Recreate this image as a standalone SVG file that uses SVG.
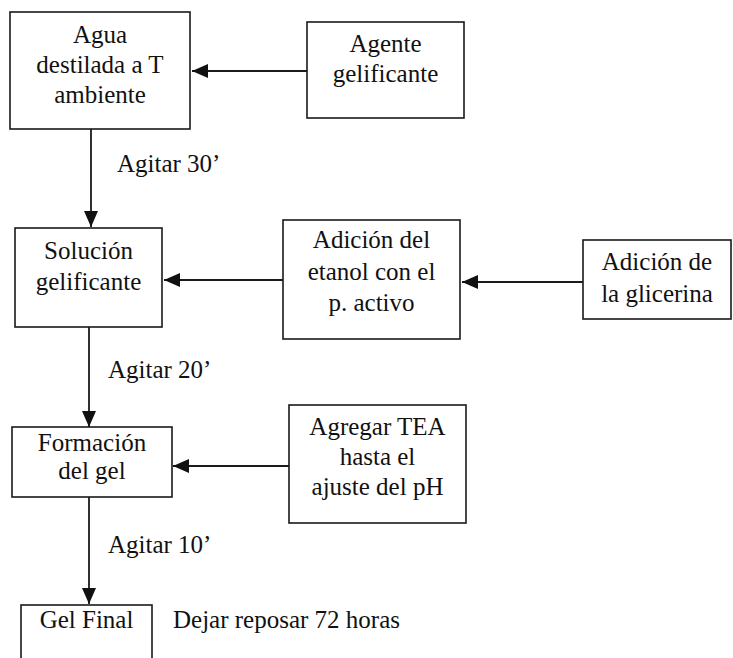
<svg xmlns="http://www.w3.org/2000/svg" width="733" height="658" viewBox="0 0 733 658">
  <defs>
    <marker id="head" viewBox="0 0 16 14" refX="16" refY="7" markerWidth="16" markerHeight="14" markerUnits="userSpaceOnUse" orient="auto">
      <path d="M0,0 L16,7 L0,14 Z" fill="#111111"/>
    </marker>
  </defs>
  <rect width="733" height="658" fill="#ffffff"/>

  <!-- connectors -->
  <g id="connectors" stroke="#1a1a1a" stroke-width="1.8" fill="none" marker-end="url(#head)">
    <line x1="307" y1="71" x2="192" y2="71"/>
    <line x1="91" y1="129" x2="91" y2="227"/>
    <line x1="283" y1="280" x2="164" y2="280"/>
    <line x1="583" y1="282" x2="462" y2="282"/>
    <line x1="89" y1="327" x2="89" y2="427"/>
    <line x1="289" y1="466" x2="173" y2="466"/>
    <line x1="89" y1="497" x2="89" y2="604"/>
  </g>
  <g id="connector-labels" font-family="Liberation Serif" font-size="25" fill="#111111">
    <text x="117" y="172">Agitar 30’</text>
    <text x="108" y="378">Agitar 20’</text>
    <text x="108" y="553">Agitar 10’</text>
  </g>

  <!-- process boxes -->
  <g font-family="Liberation Serif" font-size="25" fill="#111111" text-anchor="middle">
    <g id="agua">
      <rect x="10" y="12" width="180" height="117" fill="#ffffff" stroke="#1a1a1a" stroke-width="1.6"/>
      <text x="100" y="43">Agua</text>
      <text x="100" y="73">destilada a T</text>
      <text x="100" y="103">ambiente</text>
    </g>

    <g id="agente">
      <rect x="307" y="22" width="157" height="96" fill="#ffffff" stroke="#1a1a1a" stroke-width="1.6"/>
      <text x="385.5" y="52">Agente</text>
      <text x="385.5" y="82">gelificante</text>
    </g>

    <g id="solucion">
      <rect x="15" y="228" width="147" height="99" fill="#ffffff" stroke="#1a1a1a" stroke-width="1.6"/>
      <text x="88.5" y="259">Solución</text>
      <text x="88.5" y="290">gelificante</text>
    </g>

    <g id="etanol">
      <rect x="283" y="220" width="177" height="119" fill="#ffffff" stroke="#1a1a1a" stroke-width="1.6"/>
      <text x="371.5" y="248">Adición del</text>
      <text x="371.5" y="280">etanol con el</text>
      <text x="371.5" y="311">p. activo</text>
    </g>

    <g id="glicerina">
      <rect x="583" y="240" width="148" height="79" fill="#ffffff" stroke="#1a1a1a" stroke-width="1.6"/>
      <text x="657" y="270">Adición de</text>
      <text x="657" y="302">la glicerina</text>
    </g>

    <g id="formacion">
      <rect x="12" y="427" width="160" height="70" fill="#ffffff" stroke="#1a1a1a" stroke-width="1.6"/>
      <text x="92" y="451">Formación</text>
      <text x="92" y="479">del gel</text>
    </g>

    <g id="tea">
      <rect x="289" y="405" width="177" height="118" fill="#ffffff" stroke="#1a1a1a" stroke-width="1.6"/>
      <text x="377.5" y="435">Agregar TEA</text>
      <text x="377.5" y="465">hasta el</text>
      <text x="377.5" y="495">ajuste del pH</text>
    </g>

    <g id="gel-final">
      <rect x="21" y="605" width="131" height="70" fill="#ffffff" stroke="#1a1a1a" stroke-width="1.6"/>
      <text x="86.5" y="628">Gel Final</text>
      <text x="173" y="628" text-anchor="start">Dejar reposar 72 horas</text>
    </g>
  </g>
</svg>
